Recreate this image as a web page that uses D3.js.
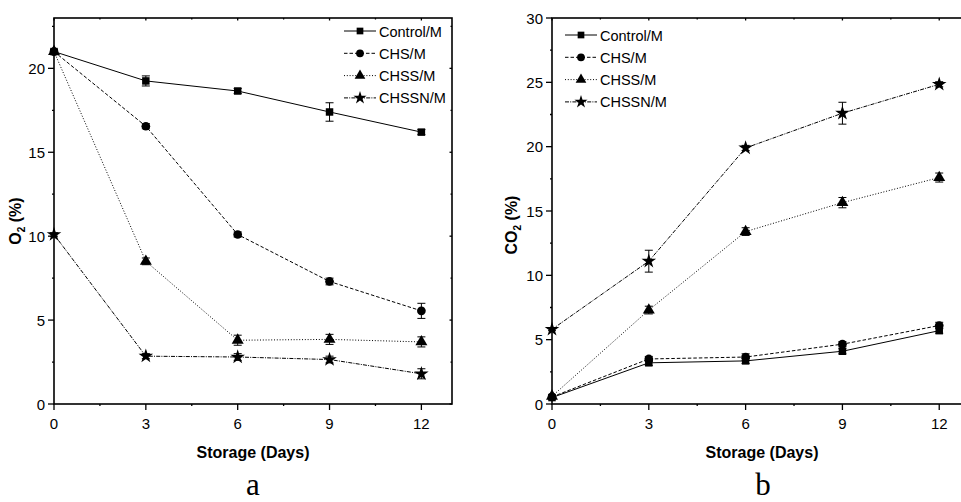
<!DOCTYPE html>
<html>
<head>
<meta charset="utf-8">
<script src="https://cdn.jsdelivr.net/npm/d3@7"></script>
<style>
  body { margin: 0; background: #fff; }
  svg { display: block; }
  .tick-label { font-family: "Liberation Sans Narrow", "Arial Narrow", sans-serif; font-size: 15px; fill: #000; }
  .axis-title { font-family: "Liberation Sans Narrow", "Arial Narrow", sans-serif; font-weight: bold; font-size: 16px; fill: #000; }
  .legend-text { font-family: "Liberation Sans Narrow", "Arial Narrow", sans-serif; font-size: 14.5px; fill: #000; }
  .panel-label { font-family: "Liberation Serif", "Times New Roman", serif; font-size: 31px; fill: #000; }
</style>
</head>
<body>
<div id="chart"></div>
<script>
// ---- data ----
const days = [0, 3, 6, 9, 12];
const seriesNames = ['Control/M', 'CHS/M', 'CHSS/M', 'CHSSN/M'];

// panel a: O2 (%)
const o2Control = [21.0, 19.25, 18.65, 17.4, 16.2];
const o2CHS     = [21.0, 16.55, 10.1, 7.3, 5.55];
const o2CHSS    = [21.0, 8.5, 3.8, 3.85, 3.7];
const o2CHSSN   = [10.1, 2.85, 2.8, 2.65, 1.8];
const o2ControlErr = [0.1, 0.3, 0.15, 0.55, 0.15];
const o2CHSErr     = [0.1, 0.15, 0.15, 0.2, 0.45];
const o2CHSSErr    = [0.1, 0.2, 0.3, 0.3, 0.3];
const o2CHSSNErr   = [0.1, 0.15, 0.2, 0.2, 0.3];

// panel b: CO2 (%)
const co2Control = [0.5, 3.2, 3.35, 4.1, 5.7];
const co2CHS     = [0.55, 3.5, 3.65, 4.65, 6.1];
const co2CHSS    = [0.6, 7.3, 13.4, 15.65, 17.6];
const co2CHSSN   = [5.8, 11.1, 19.9, 22.6, 24.85];
const co2ControlErr = [0.1, 0.2, 0.2, 0.2, 0.2];
const co2CHSErr     = [0.1, 0.2, 0.25, 0.2, 0.25];
const co2CHSSErr    = [0.1, 0.3, 0.3, 0.4, 0.35];
const co2CHSSNErr   = [0.1, 0.85, 0.2, 0.85, 0.2];

const o2YTicks = [0, 5, 10, 15, 20];
const co2YTicks = [0, 5, 10, 15, 20, 25, 30];
const xTicks = [0, 3, 6, 9, 12];

// ---- styles per series ----
const STYLE = [
  { dash: null,            symbol: d3.symbolSquare,   size: 56 },
  { dash: '3.5,2',         symbol: d3.symbolCircle,   size: 60 },
  { dash: '1,1.8',         symbol: d3.symbolTriangle, size: 62 },
  { dash: '4,1.2,1,1.2',   symbol: d3.symbolStar,     size: 66 },
];

const W = 961, H = 502;
const svg = d3.select('#chart').append('svg').attr('width', W).attr('height', H);

function drawPanel(opt) {
  const x = d3.scaleLinear().domain([0, 13]).range(opt.xRange);
  const y = d3.scaleLinear().domain([0, opt.yMax]).range([404, 18]);
  const g = svg.append('g');
  const [x0, x1] = opt.xRange;

  // frame
  g.append('rect').attr('x', x0).attr('y', 18).attr('width', x1 - x0).attr('height', 386)
    .attr('fill', 'none').attr('stroke', '#000').attr('stroke-width', 1.6);

  // x ticks (bottom outward, top small)
  d3.range(0, 13.01, 1.5).forEach(v => {
    const major = v % 3 === 0;
    g.append('line').attr('x1', x(v)).attr('x2', x(v))
      .attr('y1', 404).attr('y2', 404 + (major ? 6 : 2))
      .attr('stroke', '#000').attr('stroke-width', 1.3);
    g.append('line').attr('x1', x(v)).attr('x2', x(v))
      .attr('y1', 18).attr('y2', 18 + (major ? 2.5 : 1.5))
      .attr('stroke', '#000').attr('stroke-width', 1.3);
  });
  xTicks.forEach(v => {
    g.append('text').attr('class', 'tick-label').attr('x', x(v)).attr('y', 429)
      .attr('text-anchor', 'middle').text(v);
  });

  // y ticks
  d3.range(0, opt.yMax + 0.01, 2.5).forEach(v => {
    const major = v % 5 === 0;
    g.append('line').attr('x1', x0 - (major ? 6 : 2)).attr('x2', x0)
      .attr('y1', y(v)).attr('y2', y(v)).attr('stroke', '#000').attr('stroke-width', 1.3);
    g.append('line').attr('x1', x1).attr('x2', x1 - (major ? 2.5 : 1.5))
      .attr('y1', y(v)).attr('y2', y(v)).attr('stroke', '#000').attr('stroke-width', 1.3);
  });
  opt.yTicks.forEach(v => {
    g.append('text').attr('class', 'tick-label').attr('x', x0 - 9).attr('y', y(v) + 5.5)
      .attr('text-anchor', 'end').text(v);
  });

  // axis titles
  g.append('text').attr('class', 'axis-title')
    .attr('x', opt.xTitleX).attr('y', 458)
    .attr('text-anchor', 'middle').text('Storage (Days)');

  const yt = g.append('text').attr('class', 'axis-title')
    .attr('transform', `translate(${opt.yTitleX},${opt.yTitleY}) rotate(-90)`)
    .attr('text-anchor', 'middle');
  yt.append('tspan').text(opt.gas);
  yt.append('tspan').attr('font-size', '10px').attr('dy', 4).text('2');
  yt.append('tspan').attr('dy', -4).text(' (%)');

  // series
  const line = d3.line().x((d, i) => x(days[i])).y(d => y(d));
  opt.series.forEach((vals, si) => {
    const st = STYLE[si];
    g.append('path').attr('d', line(vals)).attr('fill', 'none')
      .attr('stroke', '#000').attr('stroke-width', 1)
      .attr('stroke-dasharray', st.dash);
    vals.forEach((v, i) => {
      const e = opt.errs[si][i];
      const cx = x(days[i]);
      g.append('line').attr('x1', cx).attr('x2', cx).attr('y1', y(v - e)).attr('y2', y(v + e))
        .attr('stroke', '#000').attr('stroke-width', 1);
      [v - e, v + e].forEach(ev => {
        g.append('line').attr('x1', cx - 4).attr('x2', cx + 4).attr('y1', y(ev)).attr('y2', y(ev))
          .attr('stroke', '#000').attr('stroke-width', 1);
      });
      g.append('path').attr('d', d3.symbol(st.symbol, st.size)())
        .attr('transform', `translate(${cx},${y(v)})`).attr('fill', '#000');
    });
  });

  // legend
  seriesNames.forEach((name, si) => {
    const st = STYLE[si];
    const ly = opt.legend.y + si * 22.3;
    const lx = opt.legend.x;
    g.append('line').attr('x1', lx).attr('x2', lx + 32).attr('y1', ly).attr('y2', ly)
      .attr('stroke', '#000').attr('stroke-width', 1).attr('stroke-dasharray', st.dash);
    g.append('path').attr('d', d3.symbol(st.symbol, st.size * 0.8)())
      .attr('transform', `translate(${lx + 16},${ly})`).attr('fill', '#000');
    g.append('text').attr('class', 'legend-text').attr('x', lx + 35).attr('y', ly + 5.5).text(name);
  });

  // panel letter
  svg.append('text').attr('class', 'panel-label').attr('x', opt.letterX).attr('y', 495)
    .attr('text-anchor', 'middle').text(opt.letter);
}

drawPanel({
  xRange: [54, 452], yMax: 23, yTicks: o2YTicks, gas: 'O',
  series: [o2Control, o2CHS, o2CHSS, o2CHSSN],
  errs: [o2ControlErr, o2CHSErr, o2CHSSErr, o2CHSSNErr],
  legend: { x: 344, y: 31 }, xTitleX: 253, yTitleX: 21, yTitleY: 221,
  letter: 'a', letterX: 253
});

drawPanel({
  xRange: [552, 971.5], yMax: 30, yTicks: co2YTicks, gas: 'CO',
  series: [co2Control, co2CHS, co2CHSS, co2CHSSN],
  errs: [co2ControlErr, co2CHSErr, co2CHSSErr, co2CHSSNErr],
  legend: { x: 565, y: 35 }, xTitleX: 762, yTitleX: 517, yTitleY: 225,
  letter: 'b', letterX: 763
});
</script>
</body>
</html>
